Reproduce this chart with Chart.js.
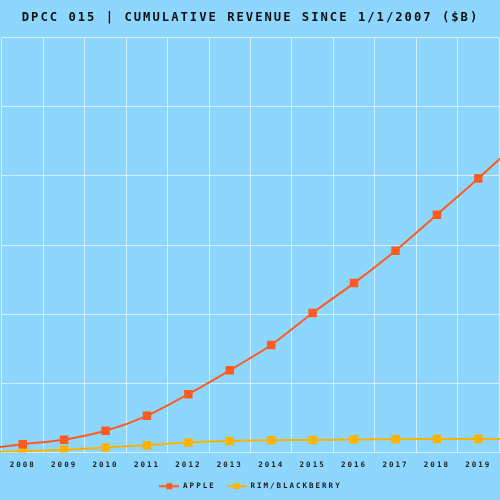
<!DOCTYPE html>
<html>
<head>
<meta charset="utf-8">
<script src="https://cdn.jsdelivr.net/npm/chart.js@4.4.1/dist/chart.umd.min.js"></script>
<style>
  html, body { margin: 0; padding: 0; background: #8dd6fe; }
  #wrap { width: 500px; height: 500px; }
</style>
</head>
<body>
<div id="wrap"><canvas id="c" width="500" height="500"></canvas></div>
<script>
// ---- data ----
const years = ['2007','2008','2009','2010','2011','2012','2013','2014','2015','2016','2017','2018','2019','2020'];
const appleRevenue = [24, 60, 93, 157, 265, 422, 594, 777, 1009, 1225, 1459, 1720, 1982, 2256];
const rimRevenue = [3, 9, 20, 36, 53, 72, 84, 89, 91, 94, 96, 98, 98, 99];
const seriesNames = ['APPLE', 'RIM/BLACKBERRY'];
const titleText = 'DPCC 015 | CUMULATIVE REVENUE SINCE 1/1/2007 ($B)';
const firstShownYear = '2008';
const lastShownYear = '2019';
const yMin = 0, yMax = 3000, yStep = 500;

const BG = '#8dd6fe';
const ORANGE = '#ff5a1f';
const YELLOW = '#ffb300';
const GRID = 'rgba(255,255,255,0.6)';
const FONT = "'DejaVu Sans Mono', monospace";

function makeMarker(color) {
  const c = document.createElement('canvas');
  c.width = 20; c.height = 8;
  const g = c.getContext('2d');
  g.strokeStyle = color; g.lineWidth = 2;
  g.beginPath(); g.moveTo(0, 4); g.lineTo(20, 4); g.stroke();
  g.fillStyle = color;
  g.fillRect(7, 1, 6, 6);
  return c;
}
const markers = [makeMarker(ORANGE), makeMarker(YELLOW)];

const spacingPlugin = {
  id: 'spacing',
  beforeLayout(chart) { chart.ctx.letterSpacing = '2px'; },
  beforeDraw(chart) {
    const ctx = chart.ctx;
    ctx.letterSpacing = '2px';
    ctx.save();
    ctx.fillStyle = BG;
    ctx.fillRect(0, 0, chart.width, chart.height);
    ctx.restore();
  }
};

const defaultGen = Chart.defaults.plugins.legend.labels.generateLabels;

new Chart(document.getElementById('c'), {
  type: 'line',
  data: {
    labels: years,
    datasets: [
      {
        label: seriesNames[0],
        data: appleRevenue,
        borderColor: ORANGE,
        backgroundColor: ORANGE,
        borderWidth: 2,
        pointStyle: 'rect',
        pointRadius: 6,
        pointBorderWidth: 0,
        pointBackgroundColor: ORANGE,
        tension: 0.25
      },
      {
        label: seriesNames[1],
        data: rimRevenue,
        borderColor: YELLOW,
        backgroundColor: YELLOW,
        borderWidth: 2,
        pointStyle: 'rect',
        pointRadius: 6,
        pointBorderWidth: 0,
        pointBackgroundColor: YELLOW,
        tension: 0.25
      }
    ]
  },
  options: {
    responsive: false,
    animation: false,
    devicePixelRatio: 1,
    layout: { autoPadding: false, padding: { left: 2, right: 1, top: 0, bottom: 0 } },
    scales: {
      x: {
        type: 'category',
        offset: true,
        grid: { offset: true, color: GRID, lineWidth: 1, drawTicks: true, tickLength: 4, tickColor: 'rgba(0,0,0,0)' },
        border: { display: false },
        ticks: { color: '#1b1b1b', padding: 4, font: { family: FONT, size: 7.5, weight: 'bold' }, maxRotation: 0 },
        afterDataLimits(scale) {
          scale.min = years.indexOf(firstShownYear);
          scale.max = years.indexOf(lastShownYear);
        },
        afterFit(scale) { scale.height -= 2; }
      },
      y: {
        min: yMin,
        max: yMax,
        ticks: { display: false, stepSize: yStep },
        grid: { color: GRID, lineWidth: 1, drawTicks: false },
        border: { display: false }
      }
    },
    plugins: {
      title: {
        display: true,
        text: titleText,
        color: '#111',
        font: { family: FONT, size: 12.2, weight: 'bold' },
        padding: { top: 11, bottom: 12 }
      },
      legend: {
        position: 'bottom',
        labels: {
          usePointStyle: true,
          pointStyleWidth: 20,
          color: '#1b1b1b',
          font: { family: FONT, size: 7.5, weight: 'bold' },
          padding: 11,
          generateLabels(chart) {
            const items = defaultGen(chart);
            items.forEach((it, i) => { it.pointStyle = markers[i]; });
            return items;
          }
        }
      },
      tooltip: { enabled: false }
    }
  },
  plugins: [spacingPlugin]
});
</script>
</body>
</html>
